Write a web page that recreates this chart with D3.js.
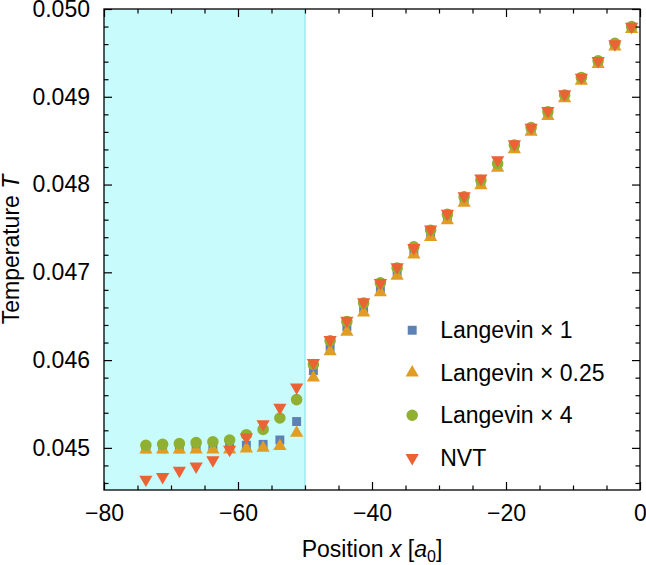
<!DOCTYPE html>
<html>
<head>
<meta charset="utf-8">
<script src="https://cdn.jsdelivr.net/npm/d3@7"></script>
<style>
  body { margin: 0; background: #fff; }
  svg text { font-family: "Liberation Sans", Arial, sans-serif; fill: #000; }
</style>
</head>
<body>
<div id="chart"></div>
<script>
// positions along the chain (a0)
const positions = [-73.75, -71.25, -68.75, -66.25, -63.75, -61.25, -58.75, -56.25, -53.75, -51.25,
  -48.75, -46.25, -43.75, -41.25, -38.75, -36.25, -33.75, -31.25, -28.75, -26.25,
  -23.75, -21.25, -18.75, -16.25, -13.75, -11.25, -8.75, -6.25, -3.75, -1.25];

const langevin1 = [0.04499, 0.04499, 0.04499, 0.04500, 0.04500, 0.04501, 0.04503, 0.04504, 0.04509, 0.04530,
  0.04588, 0.04615, 0.04638, 0.04659, 0.04681, 0.04701, 0.04724, 0.04744, 0.04762, 0.04782,
  0.04802, 0.04822, 0.04843, 0.04863, 0.04881, 0.04901, 0.04921, 0.04940, 0.04959, 0.04979];

const langevin025 = [0.04498, 0.04498, 0.04498, 0.04498, 0.04498, 0.04498, 0.04499, 0.04500, 0.04502, 0.04517,
  0.04580, 0.04610, 0.04632, 0.04654, 0.04677, 0.04696, 0.04720, 0.04740, 0.04759, 0.04779,
  0.04799, 0.04819, 0.04840, 0.04860, 0.04878, 0.04898, 0.04918, 0.04937, 0.04957, 0.04977];

const langevin4 = [0.04503, 0.04504, 0.04505, 0.04506, 0.04507, 0.04509, 0.04515, 0.04521, 0.04534, 0.04555,
  0.04595, 0.04622, 0.04644, 0.04665, 0.04688, 0.04705, 0.04729, 0.04748, 0.04766, 0.04786,
  0.04805, 0.04824, 0.04845, 0.04865, 0.04883, 0.04902, 0.04922, 0.04941, 0.04961, 0.04980];

const nvt = [0.04464, 0.04467, 0.04474, 0.04479, 0.04486, 0.04498, 0.04512, 0.04527, 0.04546, 0.04569,
  0.04597, 0.04623, 0.04645, 0.04666, 0.04688, 0.04706, 0.04728, 0.04749, 0.04767, 0.04787,
  0.04807, 0.04828, 0.04846, 0.04865, 0.04884, 0.04903, 0.04922, 0.04941, 0.04960, 0.04980];

const seriesNames = ["Langevin \u00d7 1", "Langevin \u00d7 0.25", "Langevin \u00d7 4", "NVT"];
const xTicks = [-80, -60, -40, -20, 0];
const yTicks = [0.045, 0.046, 0.047, 0.048, 0.049, 0.050];
const bathEdge = -50;

const series = [
  { name: seriesNames[0], values: langevin1, color: "#5e81b5", symbol: d3.symbolSquare, size: 80, rot: 0 },
  { name: seriesNames[1], values: langevin025, color: "#e19c24", symbol: d3.symbolTriangle, size: 76, rot: 0 },
  { name: seriesNames[2], values: langevin4, color: "#8fb032", symbol: d3.symbolCircle, size: 105, rot: 0 },
  { name: seriesNames[3], values: nvt, color: "#eb6235", symbol: d3.symbolTriangle, size: 76, rot: 180 }
];

const width = 646, height = 565;
const margin = { top: 9, right: 6, bottom: 75, left: 104 };
const innerW = width - margin.left - margin.right;
const innerH = height - margin.top - margin.bottom;
const fontSize = "23px";

const svg = d3.select("#chart").append("svg")
    .attr("width", width)
    .attr("height", height);

const g = svg.append("g")
    .attr("transform", `translate(${margin.left}, ${margin.top})`);

const x = d3.scaleLinear().domain([-80, 0]).range([0, innerW]);
const y = d3.scaleLinear().domain([0.04452, 0.0500]).range([innerH, 0]);

// thermostat region
g.append("rect")
    .attr("x", x(-80))
    .attr("y", 0)
    .attr("width", x(bathEdge) - x(-80))
    .attr("height", innerH)
    .attr("fill", "#c8fcfc");
g.append("line")
    .attr("x1", x(bathEdge)).attr("x2", x(bathEdge))
    .attr("y1", 0).attr("y2", innerH)
    .attr("stroke", "#8ee6ec")
    .attr("stroke-width", 1.2);

// markers
const symbolFor = s => d3.symbol().type(s.symbol).size(s.size);
series.forEach(s => {
    g.append("g").selectAll("path")
        .data(s.values.map((v, i) => [positions[i], v]))
        .join("path")
        .attr("d", symbolFor(s))
        .attr("transform", d => `translate(${x(d[0])}, ${y(d[1])}) rotate(${s.rot})`)
        .attr("fill", s.color);
});

// frame with inward ticks
const fmtX = d => d === 0 ? "0" : "\u2212" + Math.abs(d);
const minorX = d3.range(-80, 0.1, 5).filter(v => !xTicks.includes(v));
const minorY = d3.range(0.0446, 0.05, 0.0002).filter(v => !yTicks.some(t => Math.abs(t - v) < 1e-7));

const axisStyle = sel => {
    sel.select(".domain").remove();
    sel.selectAll(".tick line").attr("stroke", "#000").attr("stroke-width", 1.2);
    sel.selectAll("text").style("font-size", fontSize);
};

g.append("g").attr("transform", `translate(0, ${innerH})`)
    .call(d3.axisBottom(x).tickValues(xTicks).tickFormat(fmtX).tickSizeInner(-8).tickPadding(15))
    .call(axisStyle);
g.append("g").attr("transform", `translate(0, ${innerH})`)
    .call(d3.axisBottom(x).tickValues(minorX).tickFormat("").tickSizeInner(-4.5))
    .call(axisStyle);
g.append("g")
    .call(d3.axisTop(x).tickValues(xTicks).tickFormat("").tickSizeInner(-8))
    .call(axisStyle);
g.append("g")
    .call(d3.axisTop(x).tickValues(minorX).tickFormat("").tickSizeInner(-4.5))
    .call(axisStyle);

g.append("g")
    .call(d3.axisLeft(y).tickValues(yTicks).tickFormat(d3.format(".3f")).tickSizeInner(-8).tickPadding(14))
    .call(axisStyle);
g.append("g")
    .call(d3.axisLeft(y).tickValues(minorY).tickFormat("").tickSizeInner(-4.5))
    .call(axisStyle);
g.append("g").attr("transform", `translate(${innerW}, 0)`)
    .call(d3.axisRight(y).tickValues(yTicks).tickFormat("").tickSizeInner(-8))
    .call(axisStyle);
g.append("g").attr("transform", `translate(${innerW}, 0)`)
    .call(d3.axisRight(y).tickValues(minorY).tickFormat("").tickSizeInner(-4.5))
    .call(axisStyle);

g.append("rect")
    .attr("width", innerW)
    .attr("height", innerH)
    .attr("fill", "none")
    .attr("stroke", "#000")
    .attr("stroke-width", 1.3);

// axis titles
const xt = svg.append("text")
    .attr("x", margin.left + innerW / 2)
    .attr("y", 557)
    .attr("text-anchor", "middle")
    .style("font-size", fontSize);
xt.append("tspan").text("Position ");
xt.append("tspan").attr("font-style", "italic").text("x");
xt.append("tspan").text(" [");
xt.append("tspan").attr("font-style", "italic").text("a");
xt.append("tspan").attr("dy", 5).style("font-size", "16px").text("0");
xt.append("tspan").attr("dy", -5).text("]");

const yt = svg.append("text")
    .attr("transform", `translate(19, ${margin.top + innerH / 2}) rotate(-90)`)
    .attr("text-anchor", "middle")
    .style("font-size", fontSize);
yt.append("tspan").text("Temperature ");
yt.append("tspan").attr("font-style", "italic").text("T");

// legend
const legend = g.append("g").attr("transform", `translate(${x(-34)}, ${y(0.04634)})`);
series.forEach((s, i) => {
    const row = legend.append("g").attr("transform", `translate(0, ${i * 42.5})`);
    row.append("path")
        .attr("d", symbolFor(s))
        .attr("transform", `rotate(${s.rot})`)
        .attr("fill", s.color);
    row.append("text")
        .attr("x", 28)
        .attr("dy", "0.35em")
        .style("font-size", fontSize)
        .text(s.name);
});
</script>
</body>
</html>
